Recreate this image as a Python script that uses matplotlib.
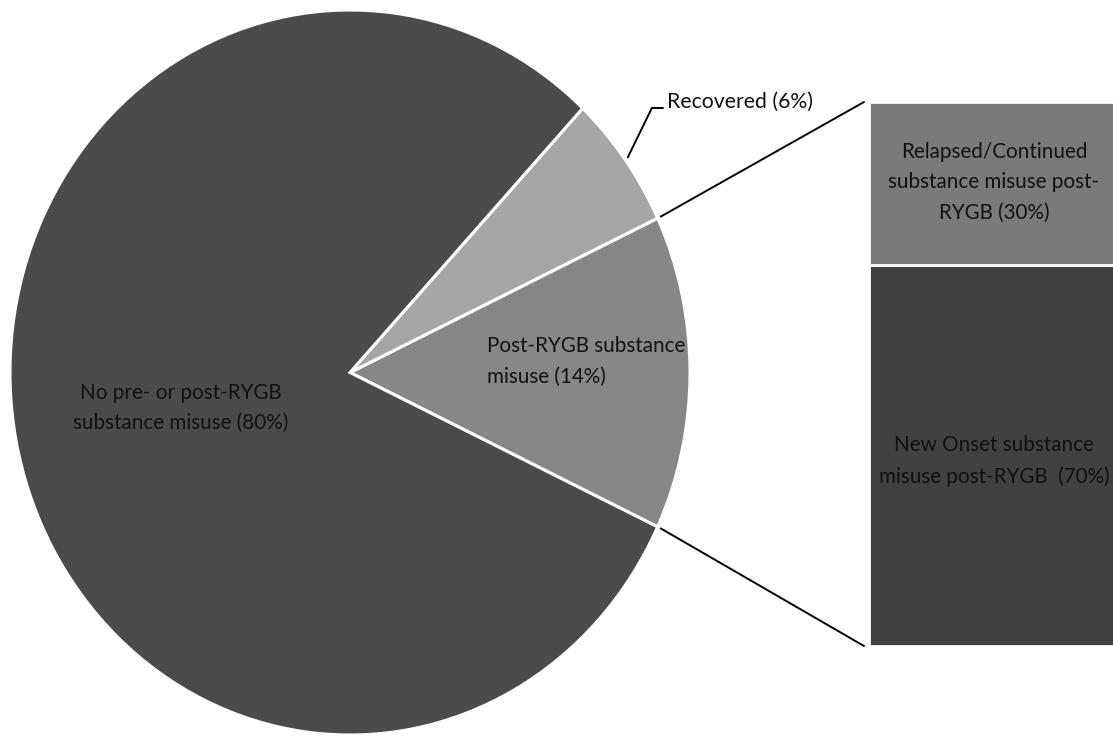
import numpy as np
import matplotlib
matplotlib.use('Agg')
import matplotlib.pyplot as plt
from matplotlib.patches import ConnectionPatch

plt.rcParams['font.family'] = ['Lato', 'DejaVu Sans']

# data
pie_labels = ['Post-RYGB substance\nmisuse (14%)', 'Recovered (6%)',
              'No pre- or post-RYGB\nsubstance misuse (80%)']
pie_values = [14, 6, 80]
pie_colors = ['#878787', '#a6a6a6', '#4b4b4b']

bar_labels = ['New Onset substance\nmisuse post-RYGB  (70%)',
              'Relapsed/Continued\nsubstance misuse post-\nRYGB (30%)']
bar_values = [70, 30]
bar_colors = ['#414141', '#7a7a7a']

W, H = 1113, 736
FS = 14.9
LS = 1.65
TXT = '#111111'


def box(l, t, r, b):
    # pixel box -> figure fraction
    return [l / W, 1 - b / H, (r - l) / W, (b - t) / H]


fig = plt.figure(figsize=(W / 100, H / 100), dpi=100)

# pie
ax = fig.add_axes(box(10, 10, 690, 735))
start = -pie_values[0] * 360 / 100 / 2
wedges, _ = ax.pie(pie_values, startangle=start, colors=pie_colors,
                   wedgeprops=dict(edgecolor='white', linewidth=2.2))
ax.set_aspect('auto')
ax.set_xlim(-1, 1)
ax.set_ylim(-1, 1)
ax.axis('off')

ax.text(0.403, 0.03, pie_labels[0], ha='left', va='center', fontsize=FS,
        color=TXT, linespacing=LS)
ax.text(-0.497, -0.098, pie_labels[2], ha='center', va='center', fontsize=FS,
        color=TXT, linespacing=LS, multialignment='center')

# recovered label with leader line
mid = np.deg2rad(start + (pie_values[0] + pie_values[1] / 2) * 3.6)
edge = (1.01 * np.cos(mid), 1.01 * np.sin(mid))
corner = ((663 - 350) / 340, (372.5 - 108) / 362.5)
ax.annotate('', xy=edge, xytext=corner,
            arrowprops=dict(arrowstyle='-', color='black', lw=1.4,
                            shrinkA=0, shrinkB=0,
                            connectionstyle='angle,angleA=0,angleB=64,rad=0'),
            annotation_clip=False)
ax.text(corner[0] + 4 / 340, corner[1] + 6 / 362.5, pie_labels[1], ha='left',
        va='center', fontsize=FS + 0.4, color=TXT)

# bar of pie
ax2 = fig.add_axes(box(869, 102, 1119, 646))
bottom = 0
for v, c, lab in zip(bar_values, bar_colors, bar_labels):
    ax2.bar(0, v, bottom=bottom, width=1, color=c, edgecolor='white',
            linewidth=2)
    ax2.text(0, bottom + v / 2 + (0.3 if v < 50 else -1), lab, ha='center',
             va='center', fontsize=FS, color=TXT, linespacing=LS,
             multialignment='center')
    bottom += v
ax2.set_xlim(-0.5, 0.5)
ax2.set_ylim(0, 100)
ax2.axis('off')

# connector lines
a_top = np.deg2rad(start + pie_values[0] * 3.6)
a_bot = np.deg2rad(start)
for a, yb in [(a_top, 100), (a_bot, 0)]:
    con = ConnectionPatch(xyA=(1.01 * np.cos(a), 1.01 * np.sin(a)), coordsA=ax.transData,
                          xyB=(-0.52, yb), coordsB=ax2.transData,
                          color='black', lw=1.4)
    fig.add_artist(con)

fig.savefig('out.png', dpi=100)
